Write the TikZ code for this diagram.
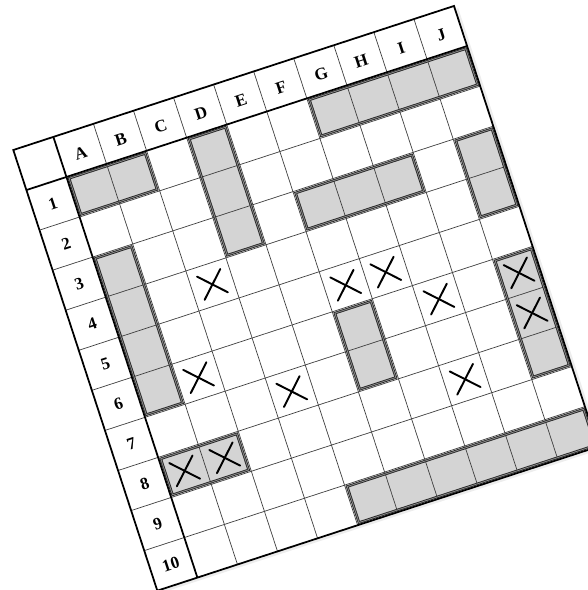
\documentclass[tikz,border=0pt]{standalone}
\usepackage{fontspec}
\setmainfont{Liberation Serif}

\newcommand{\shot}[2]{%
  \draw[shotline] (#1+0.21,-#2-0.21) -- (#1+0.79,-#2-0.79);
  \draw[shotline] (#1+0.21,-#2-0.79) -- (#1+0.79,-#2-0.21);}

\begin{document}
\begin{tikzpicture}[
  gridline/.style={line width=0.4pt, black!75},
  boldline/.style={line width=1pt},
  shipfill/.style={fill=black!17},
  shipline/.style={draw=black!85, line width=0.5pt, double=black!45, double distance=0.45pt},
  shotline/.style={line width=1.1pt, line cap=round},
  tag/.style={font=\bfseries\fontsize{11.5}{13}\selectfont, inner sep=0pt, transform shape}]
  \useasboundingbox (0,0) rectangle (11.76,11.8);
  \clip (0,0) rectangle (11.76,11.8);
  \begin{scope}[shift={(0.266,8.8)}, rotate=18.1, scale=0.843]
    % board
    \fill[black!7] (0.08,-0.08) rectangle (11.08,-11.08);
    \fill[white] (0,0) rectangle (11,-11);
    \foreach \ca/\ra/\cb/\rb in {1/1/2/1, 4/1/4/3, 7/1/10/1, 6/3/8/3, 10/3/10/4,
                                 1/3/1/6, 6/6/6/7, 10/6/10/8, 1/8/2/8, 5/10/10/10}
      { \fill[shipfill] (\ca+0.05,-\ra-0.05) rectangle (\cb+0.95,-\rb-0.95); }
    \foreach \x in {2,...,10} { \draw[gridline] (\x,0) -- (\x,-11); }
    \foreach \y in {2,...,10} { \draw[gridline] (0,-\y) -- (11,-\y); }
    \draw[boldline] (1,0) -- (1,-11);
    \draw[boldline] (0,-1) -- (11,-1);
    \draw[boldline] (0,0) rectangle (11,-11);
    \foreach \ca/\ra/\cb/\rb in {1/1/2/1, 4/1/4/3, 7/1/10/1, 6/3/8/3, 10/3/10/4,
                                 1/3/1/6, 6/6/6/7, 10/6/10/8, 1/8/2/8, 5/10/10/10}
      { \draw[shipline] (\ca+0.05,-\ra-0.05) rectangle (\cb+0.95,-\rb-0.95); }
    % shots
    \shot{3}{4} \shot{2}{6} \shot{4}{7} \shot{6}{5} \shot{7}{5}
    \shot{8}{6} \shot{8}{8} \shot{10}{6} \shot{10}{7} \shot{1}{8} \shot{2}{8}
    % labels
    \foreach \l [count=\i] in {A,...,J} { \node[tag] (col\l) at (\i+0.5,-0.56) {\l}; }
    \foreach \i in {1,...,10} { \node[tag] (row\i) at (0.5,-\i-0.5) {\i}; }
  \end{scope}
\end{tikzpicture}
\end{document}
